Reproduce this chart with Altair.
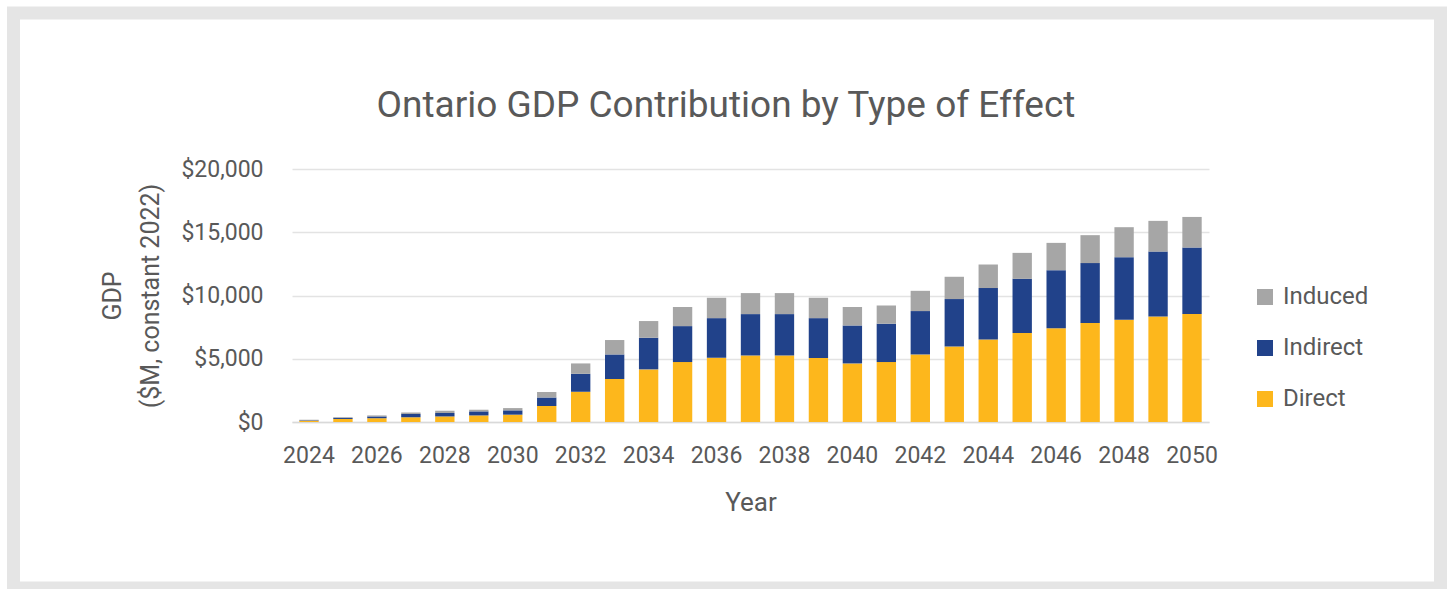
import altair as alt
import pandas as pd

years = list(range(2024, 2051))
direct = [100, 240, 300, 380, 440, 520, 580, 1260, 2390, 3400, 4160, 4740, 5080, 5260, 5260,
          5060, 4630, 4740, 5340, 5970, 6520, 7030, 7420, 7820, 8080, 8340, 8530]
indirect = [40, 80, 140, 250, 270, 320, 340, 680, 1420, 1940, 2500, 2840, 3130, 3270, 3270,
            3150, 3000, 3030, 3430, 3750, 4070, 4290, 4580, 4740, 4950, 5130, 5260]
induced = [30, 60, 80, 130, 180, 130, 180, 430, 820, 1140, 1320, 1510, 1610, 1660, 1660,
           1610, 1460, 1440, 1600, 1760, 1860, 2050, 2160, 2210, 2370, 2430, 2420]

types = ["Induced", "Indirect", "Direct"]
colors = ["#A6A6A6", "#21428A", "#FDB71C"]
stack_order = {"Direct": 0, "Indirect": 1, "Induced": 2}
title_text = "Ontario GDP Contribution by Type of Effect"
y_ticks = [0, 5000, 10000, 15000, 20000]

rows = []
for i, yr in enumerate(years):
    for name, vals in (("Direct", direct), ("Indirect", indirect), ("Induced", induced)):
        rows.append({"Year": str(yr), "Type": name, "GDP": vals[i], "ord": stack_order[name]})
df = pd.DataFrame(rows)

FONT = "Roboto"
TXT = "#595959"
L, T, W, H = 292, 169, 917, 253

frame_data = alt.Data(values=[{"k": 1}])
# light grey frame around the white panel (drawn as a thick outline)
frame = alt.Chart(frame_data).mark_rect(filled=False, stroke="#E5E5E5", strokeWidth=13).encode(
    x=alt.value(13.5 - L), x2=alt.value(1440.5 - L), y=alt.value(13 - T), y2=alt.value(588 - T))
title = alt.Chart(frame_data).mark_text(
    font=FONT, fontSize=37, color=TXT, align="center", baseline="alphabetic").encode(
    x=alt.value(726 - L), y=alt.value(117 - T), text=alt.value(title_text))

bars = alt.Chart(df).mark_bar().encode(
    x=alt.X("Year:N", sort=[str(y) for y in years],
            scale=alt.Scale(paddingInner=0.43, paddingOuter=0.215),
            axis=alt.Axis(title="Year", values=[str(y) for y in years[::2]], labelAngle=0,
                          labelFontSize=23, labelColor=TXT, labelFont=FONT, labelPadding=22,
                          ticks=False, tickSize=0, grid=False, domainColor="#D9D9D9", domainWidth=1.5,
                          titleFontSize=26, titleFont=FONT, titleColor=TXT,
                          titleFontWeight="normal", titlePadding=22)),
    y=alt.Y("GDP:Q", stack="zero",
            scale=alt.Scale(domain=[0, 20000], nice=False),
            axis=alt.Axis(title=["GDP", "($M, constant 2022)"], values=y_ticks,
                          format="$,.0f", labelFontSize=23, labelColor=TXT, labelFont=FONT,
                          labelPadding=29, ticks=False, tickSize=0, domain=False,
                          gridColor="#E3E3E3", gridWidth=1.5,
                          titleFontSize=25, titleFont=FONT, titleColor=TXT,
                          titleFontWeight="normal", titlePadding=17, titleLineHeight=38)),
    color=alt.Color("Type:N", scale=alt.Scale(domain=types, range=colors),
                    legend=alt.Legend(title=None, orient="none", legendX=961, legendY=116,
                                      symbolType="square", symbolSize=256, symbolStrokeWidth=0,
                                      labelFontSize=24, labelFont=FONT, labelColor=TXT,
                                      labelOffset=6, rowPadding=27, padding=0)),
    order=alt.Order("ord:Q", sort="ascending"),
)

chart = alt.layer(frame, title, bars).properties(
    width=W, height=H,
    autosize=alt.AutoSizeParams(type="none"),
    padding={"left": L, "top": T, "right": 1450 - L - W, "bottom": 589 - T - H},
).configure(background="white").configure_view(stroke="transparent", strokeWidth=0)

chart.save("out.html", embed_options={"renderer": "svg", "actions": False})
